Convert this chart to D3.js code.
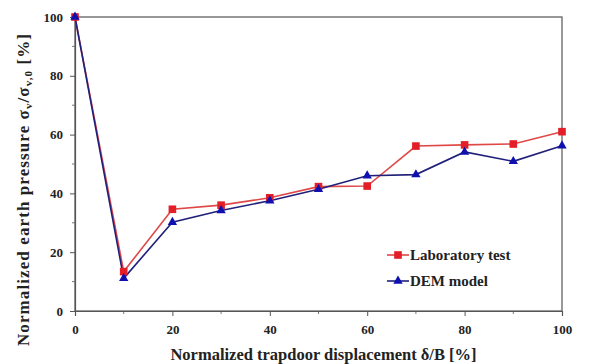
<!DOCTYPE html>
<html>
<head>
<meta charset="utf-8">
<script src="https://cdn.jsdelivr.net/npm/d3@7"></script>
<style>
  html, body { margin: 0; padding: 0; background: #fff; }
  svg { display: block; }
  text { font-family: "Liberation Serif", "Times New Roman", serif; font-weight: bold; fill: #222; }
</style>
</head>
<body>
<svg id="chart" width="605" height="364"></svg>
<script>
// Trapdoor displacement (δ/B, %) and normalized earth pressure (%)
const displacement = [0, 10, 20, 30, 40, 50, 60, 70, 80, 90, 100];
const labTest  = [100, 13.4, 34.6, 36.0, 38.5, 42.3, 42.5, 56.1, 56.5, 56.8, 61.0];
const demModel = [100, 11.1, 30.2, 34.2, 37.5, 41.4, 46.0, 46.4, 54.1, 50.9, 56.2];
const xTicks = [0, 20, 40, 60, 80, 100];
const yTicks = [0, 20, 40, 60, 80, 100];
const seriesNames = ["Laboratory test", "DEM model"];

const svg = d3.select("#chart");
const margin = { left: 75, right: 43, top: 17, bottom: 53 };
const W = 605, H = 364;

const x = d3.scaleLinear().domain([0, 100]).range([margin.left, W - margin.right]);
const y = d3.scaleLinear().domain([0, 100]).range([H - margin.bottom, margin.top]);

// frame
svg.append("rect")
  .attr("x", x(0)).attr("y", y(100))
  .attr("width", x(100) - x(0)).attr("height", y(0) - y(100))
  .attr("fill", "none").attr("stroke", "#555").attr("stroke-width", 1.2);

// minor ticks
const minor = d3.range(10, 100, 20);
svg.append("g").selectAll("line").data(minor).join("line")
  .attr("x1", x(0) - 3).attr("x2", x(0))
  .attr("y1", d => y(d)).attr("y2", d => y(d))
  .attr("stroke", "#777");
svg.append("g").selectAll("line").data(minor).join("line")
  .attr("x1", d => x(d)).attr("x2", d => x(d))
  .attr("y1", y(0)).attr("y2", y(0) + 3)
  .attr("stroke", "#777");

// axes
const xAxis = svg.append("g")
  .attr("transform", `translate(0,${y(0)})`)
  .call(d3.axisBottom(x).tickValues(xTicks).tickSize(5).tickPadding(9));
const yAxis = svg.append("g")
  .attr("transform", `translate(${x(0)},0)`)
  .call(d3.axisLeft(y).tickValues(yTicks).tickSize(5).tickPadding(7));
[xAxis, yAxis].forEach(g => {
  g.select(".domain").attr("stroke", "#555").attr("stroke-width", 1.2);
  g.selectAll(".tick line").attr("stroke", "#555");
  g.selectAll(".tick text").attr("font-size", 13)
    .attr("font-family", "'Liberation Serif', serif").attr("font-weight", "bold").attr("fill", "#333");
});

// series
const line = d3.line().x((d, i) => x(displacement[i])).y(d => y(d));

svg.append("path").datum(labTest)
  .attr("d", line).attr("fill", "none")
  .attr("stroke", "#e04848").attr("stroke-width", 1.6);
svg.append("path").datum(demModel)
  .attr("d", line).attr("fill", "none")
  .attr("stroke", "#20207a").attr("stroke-width", 1.6);

const sq = d3.symbol().type(d3.symbolSquare).size(58);
const tri = d3.symbol().type(d3.symbolTriangle).size(38);

svg.append("g").selectAll("path").data(labTest).join("path")
  .attr("d", sq)
  .attr("transform", (d, i) => `translate(${x(displacement[i])},${y(d)})`)
  .attr("fill", "#e41e26");
svg.append("g").selectAll("path").data(demModel).join("path")
  .attr("d", tri)
  .attr("transform", (d, i) => `translate(${x(displacement[i])},${y(d)})`)
  .attr("fill", "#1010b0");

// legend
const legend = svg.append("g");
const legendItems = [
  { name: seriesNames[0], line: "#e04848", fill: "#e41e26", sym: sq, yPos: 255 },
  { name: seriesNames[1], line: "#20207a", fill: "#1010b0", sym: tri, yPos: 281 }
];
legendItems.forEach(it => {
  legend.append("line").attr("x1", 387).attr("x2", 409)
    .attr("y1", it.yPos).attr("y2", it.yPos)
    .attr("stroke", it.line).attr("stroke-width", 1.6);
  legend.append("path").attr("d", it.sym)
    .attr("transform", `translate(398,${it.yPos})`).attr("fill", it.fill);
  legend.append("text").attr("x", 410).attr("y", it.yPos + 5)
    .attr("font-size", 15).text(it.name);
});

// axis titles
svg.append("text")
  .attr("x", (x(0) + x(100)) / 2 + 5).attr("y", 360)
  .attr("text-anchor", "middle").attr("font-size", 16.5)
  .text("Normalized trapdoor displacement δ/B [%]");

const yt = svg.append("text")
  .attr("transform", "translate(29,190) rotate(-90)")
  .attr("text-anchor", "middle").attr("font-size", 17)
  .attr("textLength", 312).attr("lengthAdjust", "spacing");
yt.append("tspan").text("Normalized earth pressure  σ");
yt.append("tspan").attr("font-size", 11).attr("dy", 3).text("v");
yt.append("tspan").attr("dy", -3).text("/σ");
yt.append("tspan").attr("font-size", 11).attr("dy", 3).text("v,0");
yt.append("tspan").attr("dy", -3).text(" [%]");
</script>
</body>
</html>
